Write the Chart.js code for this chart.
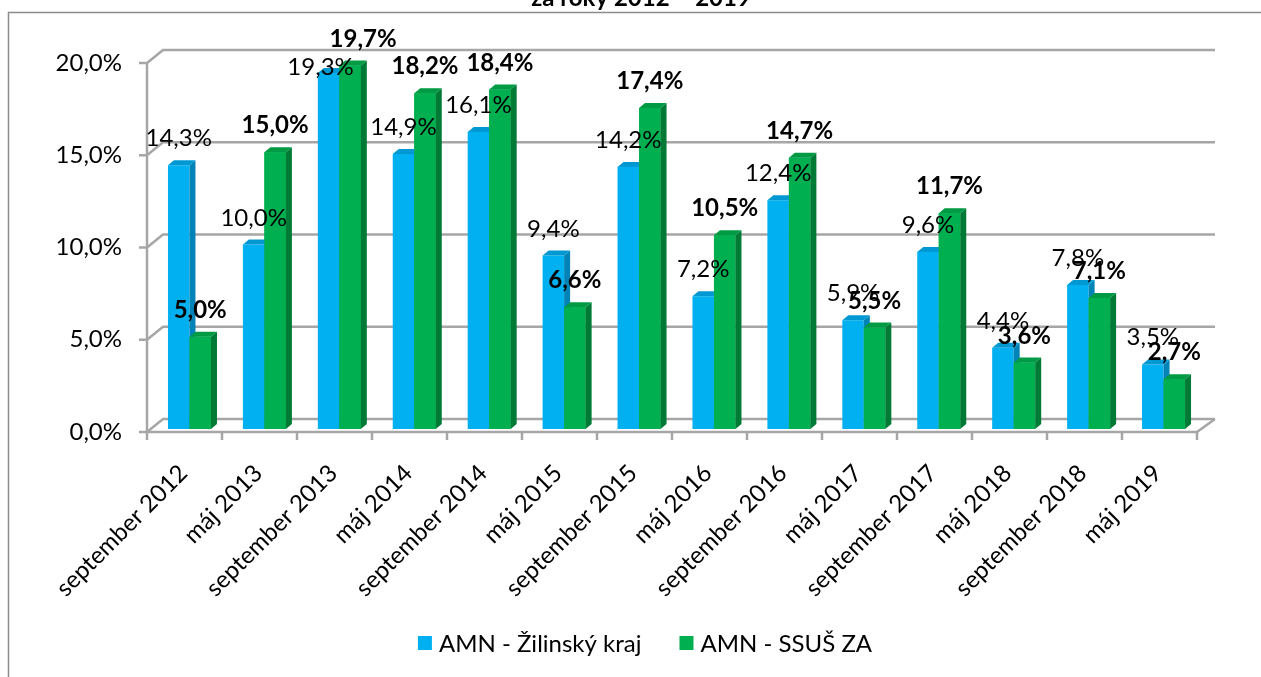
<!DOCTYPE html>
<html><head><meta charset="utf-8">
<script src="https://cdn.jsdelivr.net/npm/chart.js@4"></script>
<style>html,body{margin:0;padding:0;background:#fff;} canvas{display:block;}</style>
</head><body>
<canvas id="c" width="1261" height="677"></canvas>
<script>
const categories = ['september 2012','máj 2013','september 2013','máj 2014','september 2014','máj 2015','september 2015','máj 2016','september 2016','máj 2017','september 2017','máj 2018','september 2018','máj 2019'];
const seriesKraj = [14.3,10.0,19.3,14.9,16.1,9.4,14.2,7.2,12.4,5.9,9.6,4.4,7.8,3.5];
const seriesSsus = [5.0,15.0,19.7,18.2,18.4,6.6,17.4,10.5,14.7,5.5,11.7,3.6,7.1,2.7];
const seriesNames = ['AMN - Žilinský kraj','AMN - SSUŠ ZA'];
const yTicks = [0,5,10,15,20];
const titleText = 'za roky 2012 – 2019';

const FONT = 'Lato';
const fmt = v => Number(v).toFixed(1).replace('.', ',') + '%';
const frontColors = ['#00B0F0','#00B050'];
const sideColors = ['#0084B8','#007A35'];
const topColors = ['#0098D2','#009A45'];

function drawFaces(ctx, el, di) {
  const dx = 6, dy = 5;
  const {x, y, base, width} = el.getProps(['x','y','base','width'], true);
  const l = x - width / 2, r = x + width / 2;
  ctx.fillStyle = sideColors[di];
  ctx.beginPath();
  ctx.moveTo(r, y); ctx.lineTo(r + dx, y - dy); ctx.lineTo(r + dx, base - dy); ctx.lineTo(r, base);
  ctx.closePath(); ctx.fill();
  ctx.fillStyle = topColors[di];
  ctx.beginPath();
  ctx.moveTo(l, y); ctx.lineTo(l + dx, y - dy); ctx.lineTo(r + dx, y - dy); ctx.lineTo(r, y);
  ctx.closePath(); ctx.fill();
}

const deco = {
  id: 'deco',
  beforeDraw(chart) {
    const ctx = chart.ctx;
    ctx.save();
    ctx.fillStyle = '#fff';
    ctx.fillRect(0, 0, chart.width, chart.height);
    ctx.strokeStyle = '#8c8c8c'; ctx.lineWidth = 1.5;
    ctx.beginPath(); ctx.moveTo(8.5, chart.height); ctx.lineTo(8.5, 12.5); ctx.lineTo(chart.width, 12.5); ctx.stroke();
    ctx.font = `bold 24px ${FONT}`; ctx.fillStyle = '#000';
    ctx.textAlign = 'center'; ctx.textBaseline = 'alphabetic';
    ctx.fillText(titleText, 641, 6);
    ctx.restore();
  },
  beforeDatasetsDraw(chart) {
    const {ctx, chartArea: a, scales: {y}} = chart;
    const fl = a.left - 5, fr = a.right - 4, bl = a.left + 11, br = a.right + 14;
    ctx.save();
    ctx.strokeStyle = '#a6a6a6'; ctx.lineWidth = 2.5;
    yTicks.forEach(v => {
      const p = y.getPixelForValue(v);
      ctx.beginPath();
      ctx.moveTo(fl - 8, p + 3); ctx.lineTo(fl, p + 3); ctx.lineTo(bl, p - 10); ctx.lineTo(br, p - 10);
      ctx.stroke();
    });
    const p0 = y.getPixelForValue(0), pT = y.getPixelForValue(20);
    ctx.beginPath();
    ctx.moveTo(fl, pT + 3); ctx.lineTo(fl, p0 + 3); ctx.lineTo(fr, p0 + 3); ctx.lineTo(br, p0 - 10);
    ctx.stroke();
    const n = categories.length, w = (fr - fl) / n;
    for (let i = 0; i <= n; i++) {
      const x = fl + i * w;
      ctx.beginPath(); ctx.moveTo(x, p0 + 3); ctx.lineTo(x, p0 + 11); ctx.stroke();
    }
    ctx.restore();
  },
  afterDatasetsDraw(chart) {
    const {ctx, chartArea: a} = chart;
    const m0 = chart.getDatasetMeta(0), m1 = chart.getDatasetMeta(1);
    ctx.save();
    for (let i = 0; i < categories.length; i++) {
      drawFaces(ctx, m0.data[i], 0);
      m1.data[i].draw(ctx);
      drawFaces(ctx, m1.data[i], 1);
    }
    ctx.fillStyle = '#000'; ctx.textAlign = 'center'; ctx.textBaseline = 'alphabetic';
    for (let i = 0; i < categories.length; i++) {
      const e0 = m0.data[i], e1 = m1.data[i];
      let b0 = e0.y - 19, b1 = e1.y - 19, x0 = e0.x, x1 = e1.x;
      if (b0 - 17 < a.top - 2) { b0 = a.top + 15; x0 -= 8; x1 += 13; }
      ctx.font = `24px ${FONT}`;
      ctx.fillText(fmt(seriesKraj[i]), x0, b0);
      ctx.font = `bold 24px ${FONT}`;
      ctx.fillText(fmt(seriesSsus[i]), x1, b1);
    }
    // legend
    ctx.font = `24px ${FONT}`; ctx.textAlign = 'left'; ctx.textBaseline = 'middle';
    const box = 14, gapText = 7, gapItem = 38, cy = 643;
    const widths = chart.data.datasets.map(d => box + gapText + ctx.measureText(d.label).width);
    const total = widths.reduce((s, v) => s + v, 0) + gapItem * (widths.length - 1);
    let x = 645 - total / 2;
    chart.data.datasets.forEach((d, di) => {
      ctx.fillStyle = frontColors[di];
      ctx.fillRect(x, cy - box / 2, box, box);
      ctx.fillStyle = '#000';
      ctx.fillText(d.label, x + box + gapText, cy + 1);
      x += widths[di] + gapItem;
    });
    ctx.restore();
  }
};

new Chart(document.getElementById('c'), {
  type: 'bar',
  data: {
    labels: categories,
    datasets: [
      {label: seriesNames[0], data: seriesKraj, backgroundColor: frontColors[0]},
      {label: seriesNames[1], data: seriesSsus, backgroundColor: frontColors[1]}
    ]
  },
  options: {
    responsive: false, animation: false,
    layout: {padding: {left: 0, right: 60, top: 60, bottom: 0}},
    datasets: {bar: {categoryPercentage: 0.574, barPercentage: 1, borderWidth: 0}},
    scales: {
      x: {
        grid: {display: false}, border: {display: false},
        ticks: {font: {family: FONT, size: 24}, color: '#000', minRotation: 45, maxRotation: 45, padding: 22, labelOffset: -6, autoSkip: false},
        afterFit(s) { s.height = 248; }
      },
      y: {
        min: 0, max: 20,
        grid: {display: false}, border: {display: false},
        ticks: {stepSize: 5, font: {family: FONT, size: 24}, color: '#000', padding: 22, labelOffset: 3, callback: v => fmt(v)},
        afterFit(s) { s.width = 152; }
      }
    },
    plugins: {
      legend: {display: false},
      tooltip: {enabled: false}
    }
  },
  plugins: [deco]
});
</script>
</body></html>
